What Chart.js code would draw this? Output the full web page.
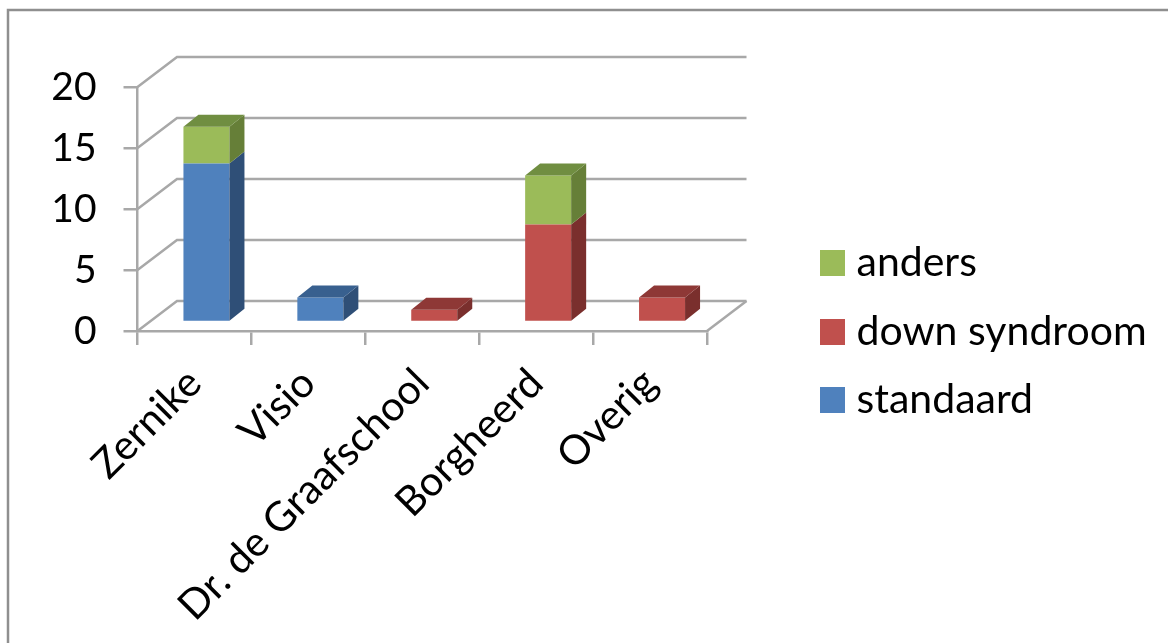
<!DOCTYPE html>
<html>
<head>
<meta charset="utf-8">
<script src="https://cdn.jsdelivr.net/npm/chart.js@4"></script>
<style>
html, body { margin: 0; background: #fff; }
canvas { display: block; filter: blur(0.7px); }
</style>
</head>
<body>
<canvas id="chart" width="1168" height="643"></canvas>
<script>
const schools = ['Zernike', 'Visio', 'Dr. de Graafschool', 'Borgheerd', 'Overig'];
const standaard = [13, 2, 0, 0, 0];
const downSyndroom = [0, 0, 1, 8, 2];
const anders = [3, 0, 0, 4, 0];

const front = { standaard: '#4f81bd', down: '#c0504d', anders: '#9bbb59' };
const side = { standaard: '#2f4f77', down: '#7a2f2d', anders: '#667f38' };
const top_ = { standaard: '#38608f', down: '#8e3836', anders: '#708e41' };
const lineColour = '#a8a8a8';
const fontName = 'Lato';

// the back wall sits this far behind the axes, the bars a bit in front of it
const wall = { dx: 39.5, dy: 30 };
const barShift = { dx: 12, dy: 9 };
const depth = { dx: 15, dy: 12 };

// a legend square with room on its left, so the label gap can stay small
const swatch = (colour) => {
    let c = document.createElement('canvas');
    c.width = 34;
    c.height = 26;
    let g = c.getContext('2d');
    g.fillStyle = colour;
    g.fillRect(9, 0, 25, 26);
    return c;
};

const poly = (ctx, colour, pts) => {
    ctx.fillStyle = colour;
    ctx.beginPath();
    pts.forEach((p, i) => (i ? ctx.lineTo(p[0], p[1]) : ctx.moveTo(p[0], p[1])));
    ctx.closePath();
    ctx.fill();
};

const fake3d = {
    id: 'fake3d',
    beforeLayout(chart) {
        let legend = chart.legend;
        if (!legend.wrapped) {
            let fit = legend.fit;
            legend.fit = function () {
                fit.call(this);
                this.width = 461;
            };
            legend.wrapped = true;
        }
    },
    afterLayout(chart) {
        chart.legend.left = 792.5;
        chart.legend.top = 215;
    },
    beforeDraw(chart) {
        let ctx = chart.ctx;
        ctx.save();
        ctx.strokeStyle = '#8f8f8f';
        ctx.lineWidth = 2.5;
        ctx.beginPath();
        ctx.moveTo(8, 643);
        ctx.lineTo(8, 10);
        ctx.lineTo(1168, 10);
        ctx.stroke();
        ctx.restore();
    },
    beforeDatasetsDraw(chart) {
        let ctx = chart.ctx;
        let { left, right } = chart.chartArea;
        let y = chart.scales.y;
        ctx.save();
        ctx.strokeStyle = lineColour;
        ctx.lineWidth = 2.5;
        y.ticks.forEach((t) => {
            let py = y.getPixelForValue(t.value);
            ctx.beginPath();
            ctx.moveTo(left, py);
            ctx.lineTo(left + wall.dx, py - wall.dy);
            ctx.lineTo(right + wall.dx, py - wall.dy);
            ctx.stroke();
        });
        let floor = y.getPixelForValue(0);
        ctx.beginPath();
        ctx.moveTo(right, floor);
        ctx.lineTo(right + wall.dx, floor - wall.dy);
        ctx.stroke();
        ctx.restore();

        ctx.save();
        ctx.translate(barShift.dx, -barShift.dy);
    },
    afterDatasetsDraw(chart) {
        let ctx = chart.ctx;
        let keys = ['standaard', 'down', 'anders'];
        schools.forEach((school, i) => {
            let highest = -1;
            chart.data.datasets.forEach((ds, d) => {
                if (ds.data[i] > 0) highest = d;
            });
            chart.data.datasets.forEach((ds, d) => {
                if (!(ds.data[i] > 0)) return;
                let bar = chart.getDatasetMeta(d).data[i];
                let l = bar.x - bar.width / 2;
                let r = bar.x + bar.width / 2;
                poly(ctx, side[keys[d]], [
                    [r, bar.y],
                    [r + depth.dx, bar.y - depth.dy],
                    [r + depth.dx, bar.base - depth.dy],
                    [r, bar.base],
                ]);
                if (d === highest) {
                    poly(ctx, top_[keys[d]], [
                        [l, bar.y],
                        [l + depth.dx, bar.y - depth.dy],
                        [r + depth.dx, bar.y - depth.dy],
                        [r, bar.y],
                    ]);
                }
            });
        });
        ctx.restore();
    },
};

let schoolChart = new Chart(document.getElementById('chart').getContext('2d'), {
    type: 'bar',
    data: {
        labels: schools,
        datasets: [
            { label: 'standaard', data: standaard, backgroundColor: front.standaard, clip: false },
            { label: 'down syndroom', data: downSyndroom, backgroundColor: front.down, clip: false },
            { label: 'anders', data: anders, backgroundColor: front.anders, clip: false },
        ],
    },
    options: {
        responsive: false,
        animation: false,
        categoryPercentage: 1,
        barPercentage: 0.404,
        layout: { autoPadding: false, padding: { top: 87 } },
        plugins: {
            tooltip: { enabled: false },
            legend: {
                position: 'right',
                align: 'start',
                reverse: true,
                labels: {
                    usePointStyle: true,
                    pointStyleWidth: 16,
                    boxHeight: 26,
                    padding: 27.5,
                    color: '#000',
                    font: { family: fontName, size: 41 },
                    generateLabels(chart) {
                        return Chart.defaults.plugins.legend.labels.generateLabels(chart).map((item) => {
                            item.pointStyle = swatch(item.fillStyle);
                            return item;
                        });
                    },
                },
            },
        },
        scales: {
            x: {
                stacked: true,
                afterFit(scale) {
                    scale.height = 312;
                },
                border: { color: lineColour, width: 2.5 },
                grid: { drawOnChartArea: false, color: lineColour, lineWidth: 2.5, tickLength: 14 },
                ticks: {
                    minRotation: 45,
                    maxRotation: 45,
                    autoSkip: false,
                    padding: 14,
                    color: '#000',
                    font: { family: fontName, size: 41 },
                },
            },
            y: {
                stacked: true,
                min: 0,
                max: 20,
                afterFit(scale) {
                    scale.width = 137.5;
                },
                border: { color: lineColour, width: 2.5 },
                grid: { drawOnChartArea: false, color: lineColour, lineWidth: 2.5, tickLength: 14 },
                ticks: {
                    stepSize: 5,
                    padding: 27,
                    color: '#000',
                    font: { family: fontName, size: 39 },
                },
            },
        },
    },
    plugins: [fake3d],
});
</script>
</body>
</html>
